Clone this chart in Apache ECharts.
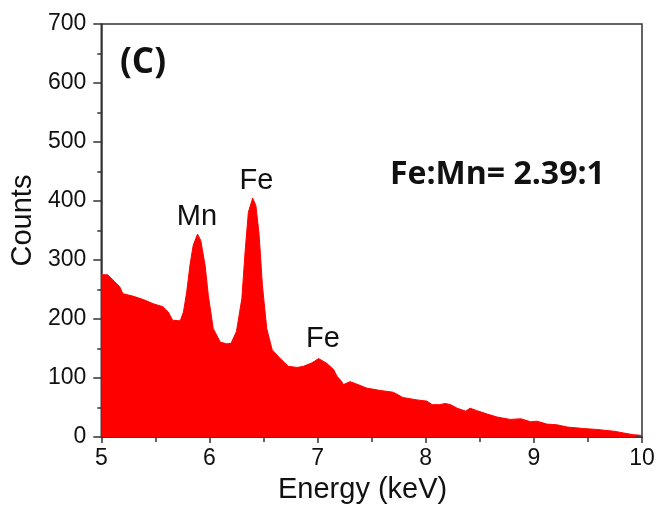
<!DOCTYPE html>
<html><head><meta charset="utf-8">
<script src="https://cdn.jsdelivr.net/npm/echarts@6/dist/echarts.min.js"></script>
<style>html,body{margin:0;padding:0;background:#fff}#c{width:659px;height:509px}</style>
</head><body><div id="c"></div>
<script>
const energy = [5.0,5.06,5.125,5.17,5.2,5.29,5.39,5.48,5.57,5.62,5.66,5.73,5.76,5.79,5.82,5.85,5.89,5.92,5.96,5.99,6.035,6.1,6.16,6.2,6.25,6.3,6.33,6.36,6.4,6.43,6.46,6.49,6.53,6.58,6.65,6.73,6.81,6.87,6.95,7.01,7.085,7.15,7.18,7.21,7.24,7.3,7.36,7.455,7.58,7.7,7.79,7.92,8.01,8.06,8.13,8.18,8.23,8.29,8.37,8.41,8.47,8.57,8.66,8.78,8.88,8.97,9.03,9.12,9.21,9.31,9.46,9.58,9.74,9.83,9.92,10.0];
const counts = [275,275,263,255,243,239,233,226,221,212,198,197,212,246,291,325,344,333,291,240,184,161,158,159,179,235,314,381,405,392,342,257,184,148,134,120,118,120,126,133,125,114,103,97,89,94,90,83,79,76,67,63,61,55,55,57,55,49,44,49,45,39,34,30,31,26,27,22,21,17,14.5,13,10,7,4,3];
// peak label names and their label-centre positions (energy, counts)
const peakNames = ["Mn","Fe","Fe"];
const peakLabelE = [5.884,6.435,7.05];
const peakLabelC = [373,434,166];
const xTicks = {min:5,max:10,interval:1};
const yTicks = {min:0,max:700,interval:100};

const chart = echarts.init(document.getElementById('c'), null, {renderer:'canvas'});
const font = 'Liberation Sans, Arial, sans-serif';
chart.setOption({
  animation:false,
  grid:{left:101,right:17,top:24,bottom:70,show:true,borderColor:'#333',borderWidth:1.5,backgroundColor:'transparent'},
  xAxis:{type:'value',min:xTicks.min,max:xTicks.max,interval:xTicks.interval,
    name:'Energy (keV)',nameLocation:'middle',nameGap:34,
    nameTextStyle:{fontFamily:font,fontSize:29,color:'#111',padding:[0,18,0,0]},
    axisLine:{show:true,lineStyle:{color:'#333',width:1.5}},
    axisTick:{show:true,inside:false,length:6,lineStyle:{color:'#333',width:1.5}},
    minorTick:{show:true,splitNumber:2,length:5,lineStyle:{color:'#333',width:1.5}},
    axisLabel:{fontFamily:font,fontSize:23,color:'#111',margin:10},
    splitLine:{show:false}},
  yAxis:{type:'value',min:yTicks.min,max:yTicks.max,interval:yTicks.interval,
    name:'Counts',nameLocation:'middle',nameGap:62,
    nameTextStyle:{fontFamily:font,fontSize:29,color:'#111',padding:[0,0,0,20]},
    axisLine:{show:true,lineStyle:{color:'#333',width:1.5}},
    axisTick:{show:true,inside:false,length:8,lineStyle:{color:'#333',width:1.5}},
    minorTick:{show:true,splitNumber:2,length:4,lineStyle:{color:'#333',width:1.5}},
    axisLabel:{fontFamily:font,fontSize:23,color:'#111',margin:15},
    splitLine:{show:false}},
  series:[{type:'line',data:energy.map((e,i)=>[e,counts[i]]),showSymbol:false,
    lineStyle:{color:'#ff0000',width:1},areaStyle:{color:'#ff0000',opacity:1},
    itemStyle:{color:'#ff0000'},z:1,
    markPoint:{symbol:'circle',symbolSize:1,itemStyle:{color:'rgba(0,0,0,0)'},
      label:{show:true,position:'inside',fontFamily:font,fontSize:29,color:'#111',formatter:p=>p.name},
      data:peakNames.map((n,i)=>({name:n,coord:[peakLabelE[i],peakLabelC[i]]}))}
  }],
  graphic:[
    {type:'text',left:120,top:46,style:{text:'(C)',fontFamily:'Open Sans, sans-serif',fontWeight:'bold',fontSize:35,fill:'#111'}},
    {type:'text',left:390,top:159,style:{text:'Fe:Mn= 2.39:1',fontFamily:'Open Sans, sans-serif',fontWeight:'bold',fontSize:32,fill:'#111'}}
  ]
});
</script></body></html>
